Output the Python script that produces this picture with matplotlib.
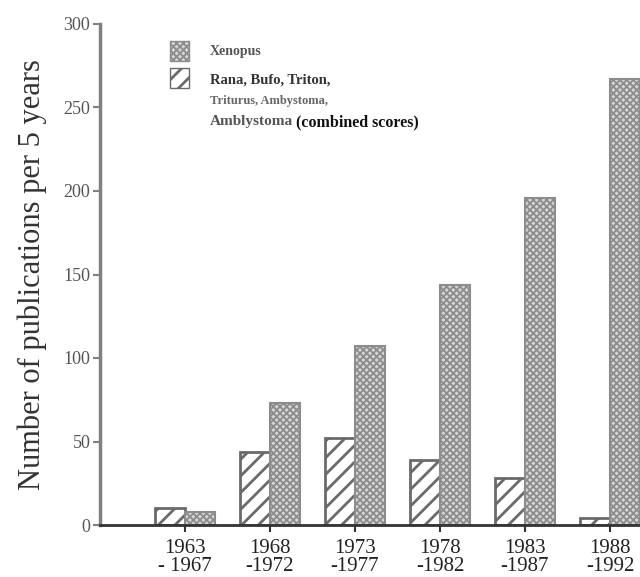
import numpy as np
import matplotlib
matplotlib.use('Agg')
import matplotlib.pyplot as plt
from matplotlib.patches import Rectangle

plt.rcParams['font.family'] = ['Liberation Serif', 'DejaVu Serif']
plt.rcParams['hatch.linewidth'] = 2.0

# data
periods = ['1963\n- 1967', '1968\n-1972', '1973\n-1977', '1978\n-1982', '1983\n-1987', '1988\n-1992']
rana = [10, 44, 52, 39, 28, 4]
xenopus = [8, 73, 107, 144, 196, 267]
y_ticks = [0, 50, 100, 150, 200, 250, 300]

fig = plt.figure(figsize=(6.4, 5.77), dpi=100)
ax = fig.add_axes([100 / 640, 52 / 577, 540 / 640, 501 / 577])

x = np.arange(len(periods))
w = 0.353
grey = '#808080'
xen_face, xen_edge = '#d6d6d6', '#8c8c8c'

ax.bar(x - w / 2, rana, width=w, facecolor='white', edgecolor='#6a6a6a',
       hatch='//', linewidth=2.0)
xb = ax.bar(x + w / 2, xenopus, width=w, facecolor=xen_face, edgecolor=xen_edge,
            hatch='xxxxx', linewidth=1.5)
for b in xb:
    if hasattr(b, 'set_hatch_linewidth'):
        b.set_hatch_linewidth(1.3)

ax.set_xlim(-1.0, 5.353)
ax.set_ylim(0, 300)
ax.set_yticks(y_ticks)
ax.set_yticklabels([str(v) for v in y_ticks], fontsize=13, color='#555555')
ax.set_xticks(x)
ax.set_xticklabels(periods, fontsize=15, color='#222222', linespacing=0.95)
ax.tick_params(axis='y', direction='out', length=5, width=1.5, color=grey, pad=2)
ax.tick_params(axis='x', direction='out', length=5, width=1.5, color='#333333', pad=5)

for s in ['top', 'right']:
    ax.spines[s].set_visible(False)
ax.spines['left'].set_color(grey)
ax.spines['left'].set_linewidth(2.5)
ax.spines['bottom'].set_color('#333333')
ax.spines['bottom'].set_linewidth(2.0)

ax.set_ylabel('Number of publications per 5 years', fontsize=22, color='#333333', labelpad=12)

# legend drawn by hand
p1 = Rectangle((170 / 640, 1 - 61 / 577), 19 / 640, 20 / 577, transform=fig.transFigure,
               facecolor=xen_face, edgecolor=xen_edge, hatch='xxxxx', linewidth=1)
if hasattr(p1, 'set_hatch_linewidth'):
    p1.set_hatch_linewidth(1.3)
fig.patches.append(p1)
fig.patches.append(Rectangle((170 / 640, 1 - 88 / 577), 19 / 640, 20 / 577, transform=fig.transFigure,
                             facecolor='white', edgecolor='#6a6a6a', hatch='//', linewidth=1))
fig.text(210 / 640, 1 - 51 / 577, 'Xenopus', fontsize=10, color='#555555', weight='bold', va='center')
fig.text(210 / 640, 1 - 80 / 577, 'Rana, Bufo, Triton,', fontsize=10.5, color='#333333', weight='bold', va='center')
fig.text(210 / 640, 1 - 101 / 577, 'Triturus, Ambystoma,', fontsize=9, color='#666666', weight='bold', va='center')
fig.text(210 / 640, 1 - 121 / 577, 'Amblystoma', fontsize=11, color='#555555', weight='bold', va='center')
fig.text(296 / 640, 1 - 122 / 577, '(combined scores)', fontsize=11.5, color='#111111', weight='bold', va='center')

fig.savefig('out.png', dpi=100)
